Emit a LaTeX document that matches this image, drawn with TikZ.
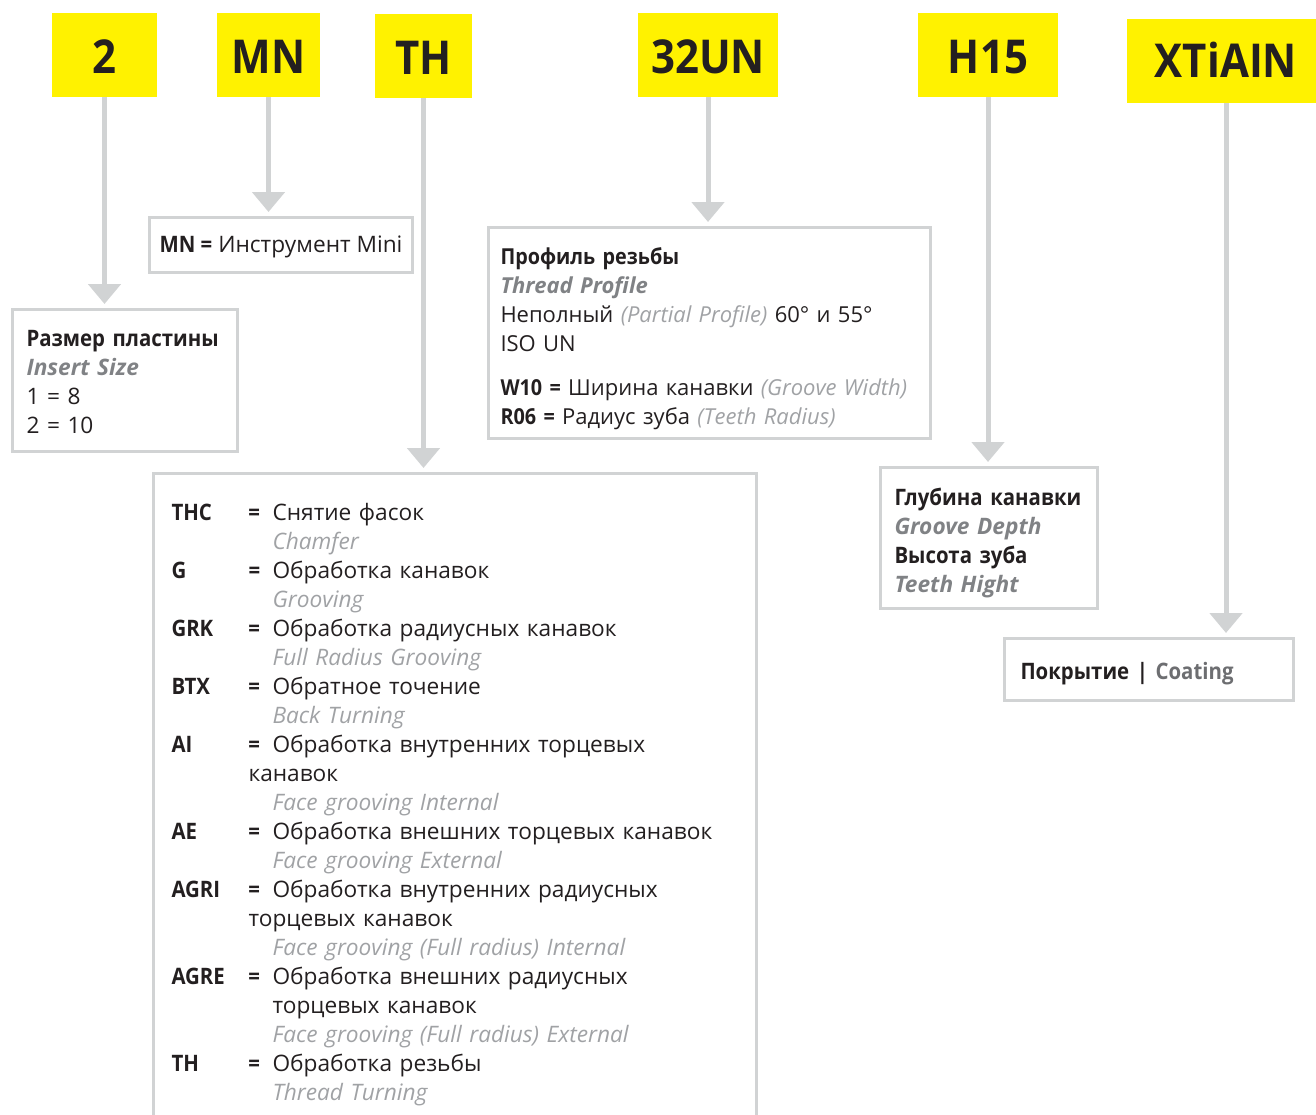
\documentclass[tikz,border=0pt]{standalone}
\usepackage{fontspec}
\setmainfont{Open Sans}[BoldFeatures={FakeStretch=0.9}]
\usetikzlibrary{arrows.meta,positioning}

\definecolor{codeyellow}{HTML}{FFF200}
\definecolor{framegray}{HTML}{D1D3D4}
\definecolor{inkblack}{HTML}{231F20}
\definecolor{subgray}{HTML}{808285}
\definecolor{notegray}{HTML}{A0A2A5}
\definecolor{coatgray}{HTML}{6D6E71}

\newcommand{\engsub}[1]{{\color{subgray}\bfseries\itshape #1}}
\newcommand{\engnote}[1]{{\color{notegray}\itshape #1}}
\newcommand{\lineup}[1]{\rule{0pt}{#1}}

\begin{document}
\begin{tikzpicture}[
  x=0.75pt, y=-0.75pt,
  code/.style={fill=codeyellow, inner sep=0pt, minimum height=63pt, text height=28pt, text=inkblack,
    font=\fontsize{35}{35}\selectfont\bfseries},
  infobox/.style={draw=framegray, line width=2.25pt, anchor=north west, inner xsep=10.5pt,
    inner ysep=0pt, align=left, text=inkblack, font=\fontsize{17}{21.75}\selectfont},
  pointer/.style={draw=framegray, line width=3.75pt, -{Triangle[width=24pt,length=15pt]}, shorten >=3pt}
]
\useasboundingbox (0,0) rectangle (1316,1114);
\clip (0,0) rectangle (1316,1114);

% code letters
\node[code, minimum width=78.75pt] (h2) at (104.5,55) {2};
\node[code, minimum width=77.25pt] (hmn) at (268.5,55) {MN};
\node[code, minimum width=72.75pt] (hth) at (423.5,56) {TH};
\node[code, minimum width=105pt] (hun) at (708,55) {32UN};
\node[code, minimum width=105pt] (hdepth) at (988,55) {H15};
\node[code, minimum width=148.5pt, text height=25pt] (hcoat) at (1226,61) {XTiAIN};

% explanations
\node[infobox, minimum width=168.75pt, minimum height=106.5pt, text width=147.75pt] (insert) at (11,308)
  {\lineup{15pt}\textbf{Размер пластины}\\ \engsub{Insert Size}\\ 1 = 8\\ 2 = 10};
\node[infobox, inner xsep=7.5pt, minimum width=197.25pt, minimum height=41.25pt] (mini) at (148,216)
  {\lineup{15.5pt}\textbf{MN =} Инструмент Mini};
\node[infobox, inner xsep=9pt, minimum width=331.5pt, minimum height=158.25pt, text width=313.5pt,
  font=\fontsize{16.5}{21.75}\selectfont] (profile) at (487,226)
  {\lineup{21.5pt}\textbf{Профиль резьбы}\\ \engsub{Thread Profile}\\
   Неполный \engnote{(Partial Profile)} 60° и 55°\\ ISO UN\\[11pt]
   \textbf{W10 =} Ширина канавки \engnote{(Groove Width)}\\
   \textbf{R06 =} Радиус зуба \engnote{(Teeth Radius)}};
\node[infobox, inner xsep=13.5pt, minimum width=452.25pt, minimum height=496.5pt, text width=425.25pt] (ops) at (152,472)
  {\begin{tabular}{@{}p{57.75pt}@{}p{18pt}@{}l@{}}
   \textbf{THC} & \textbf{=} & Снятие фасок\\
   && \engnote{Chamfer}\\
   \textbf{G} & \textbf{=} & Обработка канавок\\
   && \engnote{Grooving}\\
   \textbf{GRK} & \textbf{=} & Обработка радиусных канавок\\
   && \engnote{Full Radius Grooving}\\
   \textbf{BTX} & \textbf{=} & Обратное точение\\
   && \engnote{Back Turning}\\
   \textbf{AI} & \textbf{=} & Обработка внутренних торцевых\\
   & \multicolumn{2}{@{}l@{}}{канавок}\\
   && \engnote{Face grooving Internal}\\
   \textbf{AE} & \textbf{=} & Обработка внешних торцевых канавок\\
   && \engnote{Face grooving External}\\
   \textbf{AGRI} & \textbf{=} & Обработка внутренних радиусных\\
   & \multicolumn{2}{@{}l@{}}{торцевых канавок}\\
   && \engnote{Face grooving (Full radius) Internal}\\
   \textbf{AGRE} & \textbf{=} & Обработка внешних радиусных\\
   && торцевых канавок\\
   && \engnote{Face grooving (Full radius) External}\\
   \textbf{TH} & \textbf{=} & Обработка резьбы\\
   && \engnote{Thread Turning}
   \end{tabular}};
\node[infobox, minimum width=162.75pt, minimum height=105.75pt, text width=141.75pt] (depth) at (879,466)
  {\lineup{20.5pt}\textbf{Глубина канавки}\\ \engsub{Groove Depth}\\ \textbf{Высота зуба}\\ \engsub{Teeth Hight}};
\node[infobox, inner xsep=12pt, minimum width=216.75pt, minimum height=46.5pt, text width=192.75pt] (coat) at (1003,637)
  {\lineup{18.5pt}\textbf{Покрытие |} {\color{coatgray}\bfseries Coating}};

% pointers
\draw[pointer] (h2.south) -- (h2.south |- insert.north);
\draw[pointer] (hmn.south) -- (hmn.south |- mini.north);
\draw[pointer] (hth.south) -- (hth.south |- ops.north);
\draw[pointer] (hun.south) -- (hun.south |- profile.north);
\draw[pointer] (hdepth.south) -- (hdepth.south |- depth.north);
\draw[pointer] (hcoat.south) -- (hcoat.south |- coat.north);
\end{tikzpicture}
\end{document}
